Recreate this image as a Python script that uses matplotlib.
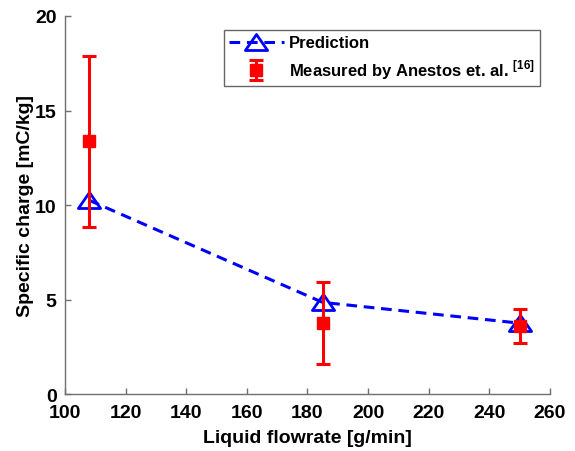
import matplotlib
matplotlib.use("Agg")
import matplotlib.pyplot as plt
from matplotlib.path import Path
from matplotlib.legend_handler import HandlerErrorbar
from matplotlib.container import ErrorbarContainer
import numpy as np

plt.rcParams['font.family'] = ['Liberation Sans', 'DejaVu Sans']
plt.rcParams['font.weight'] = 'bold'
plt.rcParams['mathtext.fontset'] = 'custom'
plt.rcParams['mathtext.bf'] = 'Liberation Sans:bold'
plt.rcParams['mathtext.rm'] = 'Liberation Sans:bold'

# Data
flowrate = [108, 185, 250]
prediction = [10.25, 4.85, 3.75]
measured = [13.4, 3.76, 3.6]
meas_low = [8.85, 1.57, 2.7]
meas_high = [17.9, 5.91, 4.5]

xticks = [100, 120, 140, 160, 180, 200, 220, 240, 260]
yticks = [0, 5, 10, 15, 20]

tri = Path([(0, 0.72), (-1, -0.72), (1, -0.72), (0, 0.72)],
           [Path.MOVETO, Path.LINETO, Path.LINETO, Path.CLOSEPOLY])

fig = plt.figure(figsize=(5.75, 4.52), dpi=100)
ax = fig.add_axes([0.113, 0.126, 0.8435, 0.8364])

ax.plot(flowrate, prediction, linestyle='--', color='#0000ff', lw=2.2,
        marker=tri, markersize=16, markerfacecolor='none', markeredgecolor='#0000ff',
        markeredgewidth=2, label='Prediction', zorder=2, dashes=(3.5, 2.2))

yerr = [np.array(measured) - np.array(meas_low), np.array(meas_high) - np.array(measured)]
ax.errorbar(flowrate, measured, yerr=yerr, fmt='s', color='#ff0000', ecolor='#ff0000',
            markersize=8, elinewidth=2.2, capsize=5, capthick=2.2,
            label=r'Measured by Anestos et. al. $^{\mathbf{[16]}}$', zorder=3)

ax.set_xlim(100, 260)
ax.set_ylim(0, 20)
ax.set_xticks(xticks)
ax.set_yticks(yticks)
ax.tick_params(direction='in', length=4, color='#707070', labelsize=14, width=1)
ax.tick_params(axis='x', pad=7)
ax.tick_params(axis='y', pad=6)
for lab in ax.get_xticklabels() + ax.get_yticklabels():
    lab.set_fontweight('bold')
for s in ['top', 'right']:
    ax.spines[s].set_visible(False)
for s in ['left', 'bottom']:
    ax.spines[s].set_color('#707070')
    ax.spines[s].set_linewidth(1)

ax.set_xlabel('Liquid flowrate [g/min]', fontsize=14, fontweight='bold', labelpad=6)
ax.set_ylabel('Specific charge [mC/kg]', fontsize=14, fontweight='bold', labelpad=1)

leg = ax.legend(loc='upper right', bbox_to_anchor=(0.979, 0.962), borderaxespad=0,
                fontsize=12, frameon=True, fancybox=False, edgecolor='#404040',
                handlelength=3.3, handletextpad=0.3, borderpad=0.3, labelspacing=0.45,
                handler_map={ErrorbarContainer: HandlerErrorbar(yerr_size=0.6)})
leg.get_frame().set_linewidth(1)
for t in leg.get_texts():
    t.set_fontweight('bold')

fig.savefig('out.png', dpi=100)
